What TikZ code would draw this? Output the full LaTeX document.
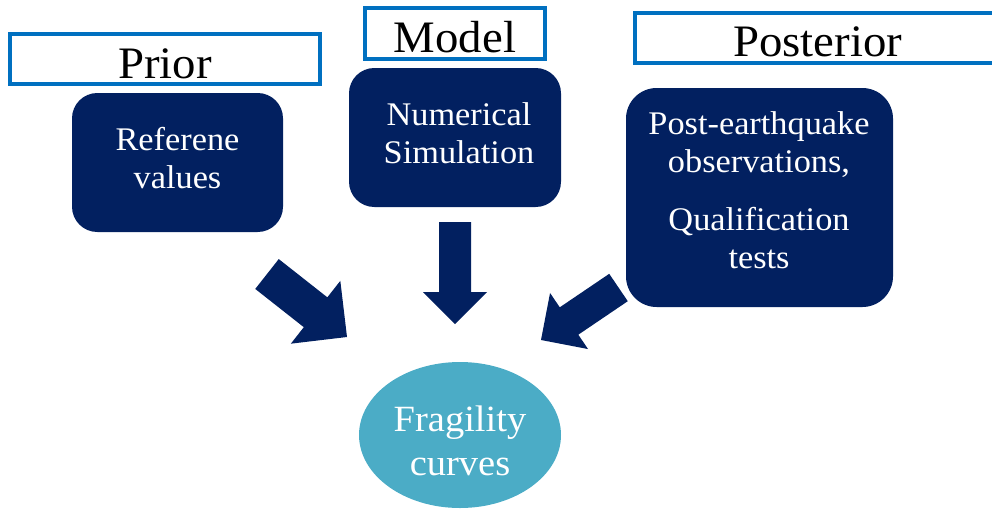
\documentclass[tikz,border=0pt]{standalone}
\usepackage{fontspec}
\setmainfont[FakeStretch=1.04]{Liberation Serif}
\usetikzlibrary{calc,shapes.geometric}
\definecolor{navyfill}{HTML}{022060}
\definecolor{outlineblue}{HTML}{0070C0}
\definecolor{tealfill}{HTML}{4BACC6}
\newcommand\blockarrow[5]{%
  \coordinate (tmpC) at ($(#2)!#5!(#1)$);
  \fill[navyfill] ($(#1)!#3!90:(#2)$) -- ($(tmpC)!#3!90:(#2)$) -- ($(tmpC)!#4!90:(#2)$)
    -- (#2) -- ($(tmpC)!#4!-90:(#2)$) -- ($(tmpC)!#3!-90:(#2)$) -- ($(#1)!#3!-90:(#2)$) -- cycle;
}
\tikzset{
  titlebox/.style={draw=outlineblue, line width=3pt, fill=white, rectangle,
    minimum height=37.5pt, text height=28.5pt, text depth=0pt, inner sep=0pt,
    font=\fontsize{33.75}{40}\selectfont, text=black},
  navybox/.style={fill=navyfill, draw=none, rounded corners=19pt, rectangle},
  bodytext/.style={text=white, align=center, inner sep=0pt,
    font=\fontsize{24.75}{28.5}\selectfont},
  ellipsetext/.style={text=white, align=center, inner sep=0pt,
    font=\fontsize{27.75}{33}\selectfont},
}
\begin{document}
\begin{tikzpicture}[x=0.75pt,y=-0.75pt]
\useasboundingbox (0,0) rectangle (992,508);
\clip (0,0) rectangle (992,508);
% title boxes
\node[titlebox, minimum width=232.5pt] (prior) at (165,59) {Prior};
\node[titlebox, minimum width=135pt, minimum height=38.25pt] (model) at (455,33.5) {Model};
\node[titlebox, minimum width=273.75pt] (posterior) at (817.5,37.5) {Posterior};
% navy boxes
\node[navybox, minimum width=158.25pt, minimum height=104.25pt] (ref) at (177.5,162.5) {};
\node[bodytext] (reftxt) at (177.5,157.8) {Referene\\values};
\node[navybox, minimum width=159pt, minimum height=104.25pt] (num) at (455,137.5) {};
\node[bodytext] (numtxt) at (459,132.8) {Numerical\\Simulation};
\node[navybox, rounded corners=23pt, minimum width=200.25pt, minimum height=164.25pt] (post) at (759.5,197.5) {};
\node[bodytext] (posttxt) at (759,189.8) {Post-earthquake\\observations,\\[15pt]Qualification\\tests};
% ellipse
\node[ellipse, fill=tealfill, minimum width=151.5pt, minimum height=109.5pt, inner sep=0pt] (frag) at (460,435) {};
\node[ellipsetext] (fragtxt) at (460,441) {Fragility\\curves};
% arrows
\coordinate (la) at (267,274);
\coordinate (lb) at (347,337);
\coordinate (ma) at (455,222);
\coordinate (mb) at (455,324);
\coordinate (ra) at (618.5,287.5);
\coordinate (rb) at (541,340);
\blockarrow{la}{lb}{14.25pt}{30pt}{30pt}
\blockarrow{ma}{mb}{12pt}{24pt}{24pt}
\blockarrow{ra}{rb}{12.4pt}{25.4pt}{25.4pt}
\end{tikzpicture}
\end{document}
